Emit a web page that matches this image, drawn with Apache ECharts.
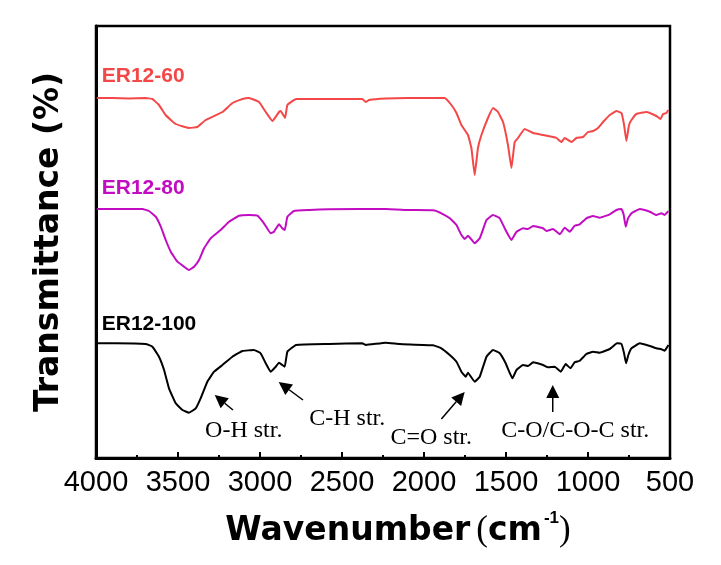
<!DOCTYPE html>
<html><head><meta charset="utf-8">
<script src="https://cdn.jsdelivr.net/npm/echarts@6/dist/echarts.min.js"></script>
<style>html,body{margin:0;padding:0;background:#fff}#c{width:721px;height:565px}</style>
</head><body><div id="c"></div>
<script>
// wavenumber (cm-1), transmittance (arbitrary units, curves offset)
const er60 = [[3995,360],[3900,360],[3800,359.5],[3700,360],[3656,359],[3616,353],[3576,343],[3514,334],[3433,330],[3382,331],[3331,338],[3229,346],[3168,355],[3107,359],[3067,360],[3006,356],[2965,346],[2924,337],[2884,346],[2874,347],[2847,340],[2833,353],[2780,359],[2600,359],[2376,359],[2355,356],[2335,358],[2233,359.5],[2100,360],[1874,360],[1833,353],[1802,345],[1772,333],[1732,323],[1711,310],[1691,283],[1671,310],[1650,323],[1610,340],[1579,350],[1549,346],[1518,336],[1488,313],[1467,290],[1447,316],[1427,320],[1386,329],[1335,325],[1274,323],[1213,321],[1192,320],[1162,316],[1142,320],[1101,316],[1071,320],[1030,321],[1000,326],[969,327],[939,330],[908,336],[867,343],[827,347],[796,345],[780,333],[766,317],[750,333],[735,338],[705,344],[644,346],[583,342],[558,339],[542,344],[522,345],[510,348]];
const er80 = [[3995,249],[3717,249],[3677,247],[3636,241.3],[3605,231.3],[3575,218],[3544,206.3],[3504,196.3],[3463,191.3],[3433,188],[3402,191.3],[3372,198],[3341,209.7],[3301,219.7],[3240,228],[3189,236.3],[3128,242.3],[3067,243],[3016,242.3],[2976,234.7],[2935,224.7],[2915,226.3],[2884,233.7],[2864,229.7],[2849,228],[2833,241.3],[2793,247],[2699,248],[2577,248.7],[2233,249],[2087,248],[1945,247.7],[1894,244.7],[1843,239.7],[1802,233],[1772,223],[1752,219],[1732,222.3],[1691,214.7],[1660,219.7],[1619,238],[1579,243],[1538,239.7],[1508,229.7],[1467,218],[1436,226.3],[1396,229.7],[1366,229],[1335,232],[1274,229.7],[1253,227],[1213,229],[1172,223.7],[1142,230.3],[1111,226.3],[1081,232.3],[1050,233.7],[1010,239.7],[969,242],[928,240.3],[867,243.7],[827,248],[796,249],[782,243],[770,231.3],[756,239.7],[735,244.7],[684,249],[623,246.3],[583,243],[552,244.7],[532,243],[510,247]];
const er100 = [[3995,114.7],[3880,114.7],[3697,114],[3656,111.3],[3616,101.3],[3585,88],[3555,69.7],[3514,54.7],[3473,48],[3433,45.3],[3392,49.7],[3362,59.7],[3321,76.3],[3280,86.3],[3229,93],[3168,101.3],[3107,107],[3037,108],[2996,104.7],[2965,94.7],[2935,86.3],[2904,91.3],[2884,95.3],[2864,93],[2849,91.3],[2833,106.3],[2780,113],[2577,114],[2376,114.7],[2355,113],[2233,115.3],[2148,114],[1945,112.7],[1894,109.7],[1843,103],[1802,96.3],[1772,86.3],[1746,81.3],[1732,85.3],[1691,76.3],[1660,81.3],[1619,101.3],[1579,108],[1538,104.7],[1502,94.7],[1461,79.7],[1436,88],[1396,93],[1366,92],[1335,95.7],[1274,93],[1244,90.7],[1203,91.3],[1166,86.3],[1136,94],[1107,89.7],[1081,95.7],[1050,97.3],[1010,104],[969,106.3],[928,105.3],[867,109],[823,114.7],[796,114],[780,104.7],[768,94.7],[754,103],[735,109.7],[684,114.7],[623,112],[583,109.7],[552,108.7],[532,107.3],[510,113]];

const seriesNames = ['ER12-60','ER12-80','ER12-100'];
const seriesColors = ['#f44848','#c20cc2','#000000'];
const seriesLabelPos = [[3965,382],[3965,270],[3965,134]];

const annoText = ['O-H str.','C-H str.','C=O str.','C-O/C-O-C str.'];
const annoPos = [[3099,27],[2468,39.5],[1956,20.5],[1078,27.5]];
const arrowFrom = [[3165,48],[2738,58],[1894,39],[1215,46]];
const arrowTo = [[3276,63],[2886,76],[1752,66],[1215,73]];

const chart = echarts.init(document.getElementById('c'), null, {renderer:'canvas'});
const datasets = [er60, er80, er100];
chart.setOption({
  animation:false,
  backgroundColor:'#fff',
  grid:{left:96,right:51,top:26,bottom:107,show:true,borderColor:'#000',borderWidth:2.5,backgroundColor:'transparent'},
  xAxis:{type:'value',inverse:true,min:500,max:4000,interval:500,
    axisLine:{show:true,lineStyle:{color:'#000',width:3}},
    axisTick:{show:true,inside:true,length:6,lineStyle:{color:'#000',width:2}},
    minorTick:{show:true,splitNumber:2,length:3,lineStyle:{color:'#000',width:2}},
    splitLine:{show:false},
    axisLabel:{color:'#000',fontFamily:'Liberation Sans',fontSize:29,margin:10,formatter:v=>String(v)},
    name:'{w|Wavenumber}{p|(}{w|cm}{s|-1}{q|)}',
    nameLocation:'middle',nameGap:50,
    nameTextStyle:{padding:[0,0,0,30],rich:{
      w:{fontFamily:'DejaVu Sans',fontWeight:'bold',fontSize:33,color:'#000',lineHeight:40,verticalAlign:'bottom'},
      p:{fontFamily:'Liberation Serif',fontSize:35,color:'#000',lineHeight:40,verticalAlign:'bottom',padding:[0,0,0,6]},
      q:{fontFamily:'Liberation Serif',fontSize:35,color:'#000',lineHeight:40,verticalAlign:'bottom'},
      s:{fontFamily:'Liberation Sans',fontWeight:'bold',fontSize:17,color:'#000',lineHeight:40,verticalAlign:'top',padding:[2,0,0,2]}
    }}
  },
  yAxis:{type:'value',min:0,max:432,
    axisLine:{show:true,lineStyle:{color:'#000',width:3}},
    axisTick:{show:false},axisLabel:{show:false},splitLine:{show:false},
    name:'Transmittance (%)',nameLocation:'middle',nameGap:30,
    nameTextStyle:{fontFamily:'DejaVu Sans',fontWeight:'bold',fontSize:33,color:'#000'}
  },
  series: datasets.map((d,i)=>({
    type:'line',name:seriesNames[i],data:d,showSymbol:false,smooth:0.1,
    lineStyle:{color:seriesColors[i],width:2},itemStyle:{color:seriesColors[i]},z:3
  }))
});

const g = [];
seriesNames.forEach((n,i)=>{
  const p = chart.convertToPixel({gridIndex:0}, seriesLabelPos[i]);
  g.push({type:'text',x:p[0],y:p[1],style:{text:n,fill:seriesColors[i],font:'bold 21px "Liberation Sans"',textAlign:'left',textVerticalAlign:'middle'}});
});
annoText.forEach((t,i)=>{
  const p = chart.convertToPixel({gridIndex:0}, annoPos[i]);
  g.push({type:'text',x:p[0],y:p[1],style:{text:t,fill:'#000',font:'24px "Liberation Serif"',textAlign:'center',textVerticalAlign:'middle'}});
  const a = chart.convertToPixel({gridIndex:0}, arrowFrom[i]);
  const b = chart.convertToPixel({gridIndex:0}, arrowTo[i]);
  const dx=b[0]-a[0], dy=b[1]-a[1], L=Math.hypot(dx,dy), ux=dx/L, uy=dy/L;
  const hl=13, hw=6.5;
  const bx=b[0]-ux*hl, by=b[1]-uy*hl;
  g.push({type:'line',shape:{x1:a[0],y1:a[1],x2:bx,y2:by},style:{stroke:'#000',lineWidth:1.5}});
  g.push({type:'polygon',shape:{points:[[b[0],b[1]],[bx-uy*hw,by+ux*hw],[bx+uy*hw,by-ux*hw]]},style:{fill:'#000'}});
});
chart.setOption({graphic:g});
</script>
</body></html>
